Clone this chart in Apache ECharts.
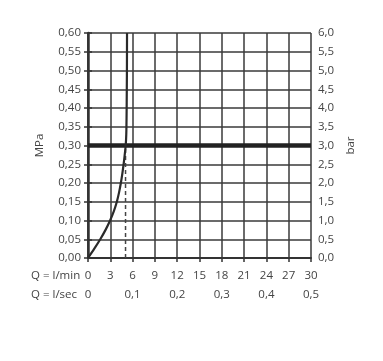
<!DOCTYPE html>
<html>
<head>
<meta charset="utf-8">
<script src="https://cdn.jsdelivr.net/npm/echarts@6/dist/echarts.min.js"></script>
<style>
html,body{margin:0;padding:0;background:#fff;}
#c{width:383px;height:361px;}
</style>
</head>
<body>
<div id="c"></div>
<script>
// Flow Q (l/min) vs pressure p (MPa)
var flowLmin = [0, 0.85, 1.65, 2.36, 2.97, 3.48, 3.88, 4.18, 4.42, 4.62, 4.79, 4.94, 5.07, 5.15, 5.19, 5.22, 5.24, 5.25];
var pressureMPa = [0, 0.025, 0.05, 0.075, 0.10, 0.125, 0.15, 0.175, 0.20, 0.225, 0.25, 0.275, 0.30, 0.33, 0.38, 0.45, 0.52, 0.60];
var limitPressure = 0.30;
var limitFlow = 5.05;
var xMin = 0, xMax = 30, xStep = 3;
var x2Min = 0, x2Max = 0.5, x2Step = 0.1;
var yMin = 0, yMax = 0.6, yStep = 0.05;
var y2Min = 0, y2Max = 6, y2Step = 0.5;
var rowLabels = ['Q = l/min', 'Q = l/sec'];
var leftName = 'MPa', rightName = 'bar';

var curve = flowLmin.map(function(q, i){ return [q, pressureMPa[i]]; });
var ink = '#3a3a3a';
var font = '"Open Sans", sans-serif';
var fs = 11.5;
function comma(v, d){ return v.toFixed(d).replace('.', ','); }

var chart = echarts.init(document.getElementById('c'));
chart.setOption({
  animation: false,
  backgroundColor: '#fff',
  grid: {left: 88, right: 72, top: 33, bottom: 103},
  xAxis: [{
    type: 'value', min: xMin, max: xMax, interval: xStep, position: 'bottom',
    axisLine: {show: true, lineStyle: {color: '#333', width: 2}},
    axisTick: {show: true, inside: false, length: 4, lineStyle: {color: '#333', width: 1.5}},
    axisLabel: {margin: 12, color: '#444', fontSize: fs, fontFamily: font,
      formatter: function(v){ return String(v); }},
    splitLine: {show: true, lineStyle: {color: ink, width: 1.5}}
  }, {
    type: 'value', min: x2Min, max: x2Max, interval: x2Step, position: 'bottom', offset: 19,
    axisLine: {show: false}, axisTick: {show: false},
    axisLabel: {margin: 12, color: '#444', fontSize: fs, fontFamily: font,
      formatter: function(v){ return v === 0 ? '0' : comma(v, 1); }},
    splitLine: {show: false}
  }],
  yAxis: [{
    type: 'value', min: yMin, max: yMax, interval: yStep, position: 'left',
    name: leftName, nameLocation: 'middle', nameGap: 32, nameRotate: 90,
    nameTextStyle: {color: '#444', fontSize: fs, fontFamily: font, padding: [0, 0, 10, 0]},
    axisLine: {show: true, lineStyle: {color: '#333', width: 1.5}},
    axisTick: {show: true, inside: false, length: 4, lineStyle: {color: '#333', width: 1.5}},
    axisLabel: {margin: 7, color: '#444', fontSize: fs, fontFamily: font,
      formatter: function(v){ return comma(v, 2); }},
    splitLine: {show: true, lineStyle: {color: ink, width: 1.5}}
  }, {
    type: 'value', min: y2Min, max: y2Max, interval: y2Step, position: 'right',
    name: rightName, nameLocation: 'middle', nameGap: 19, nameRotate: 90,
    nameTextStyle: {color: '#444', fontSize: fs, fontFamily: font, padding: [0, 0, 0, 0]},
    axisLine: {show: true, lineStyle: {color: '#333', width: 2.5}},
    axisTick: {show: true, inside: false, length: 4, lineStyle: {color: '#333', width: 1.5}},
    axisLabel: {margin: 7, color: '#444', fontSize: fs, fontFamily: font,
      formatter: function(v){ return comma(v, 1); }},
    splitLine: {show: false}
  }],
  graphic: [
    {type: 'text', left: 31, top: 270, style: {text: rowLabels[0], fill: '#444', font: fs + 'px ' + font}},
    {type: 'text', left: 31, top: 289, style: {text: rowLabels[1], fill: '#444', font: fs + 'px ' + font}}
  ],
  series: [{
    type: 'line', xAxisIndex: 0, yAxisIndex: 0, silent: true, symbol: 'none',
    data: [[xMin, limitPressure], [xMax, limitPressure]],
    lineStyle: {color: '#222', width: 4.5}
  }, {
    type: 'line', xAxisIndex: 0, yAxisIndex: 0, silent: true, symbol: 'none',
    data: [[limitFlow, 0], [limitFlow, limitPressure]],
    lineStyle: {color: '#444', width: 1.5, type: [4, 3]}
  }, {
    type: 'line', xAxisIndex: 0, yAxisIndex: 0, silent: true, symbol: 'none',
    smooth: 0.3, data: curve,
    lineStyle: {color: '#2a2a2a', width: 2.2}
  }]
});
</script>
</body>
</html>
